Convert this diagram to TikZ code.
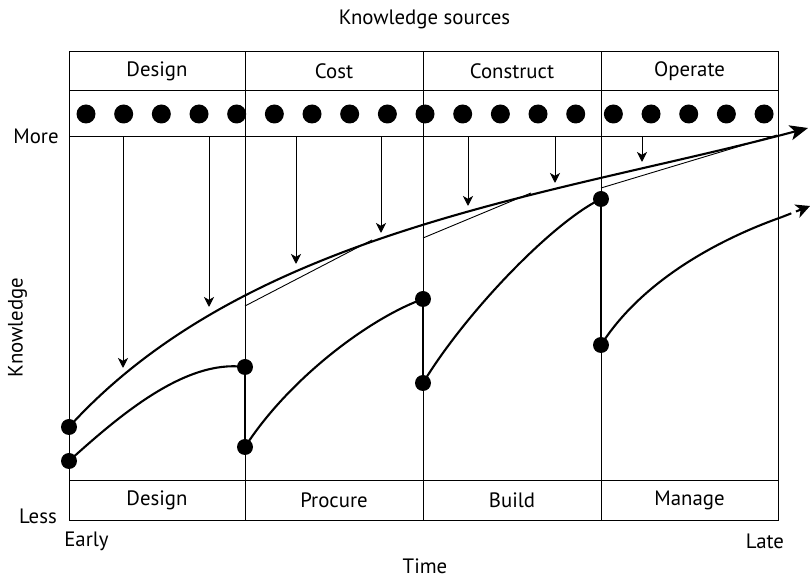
\documentclass[tikz,border=0pt]{standalone}
\usepackage{fontspec}
\setmainfont{PT Sans}
\usetikzlibrary{arrows.meta,positioning}

\begin{document}
\begin{tikzpicture}[
x=0.5pt,y=-0.5pt,
frame/.style={line width=0.45pt},
lbl/.style={inner sep=0pt,font=\fontsize{10.4}{12}\selectfont},
srcdot/.style={circle,fill,inner sep=0pt,minimum size=9.5pt},
kdot/.style={circle,fill,inner sep=0pt,minimum size=8pt},
arr/.style={-{Stealth[length=5pt,width=5pt,inset=1.4pt]},line width=0.45pt},
curve/.style={line width=1.05pt},
jump/.style={line width=1.35pt},
tangent/.style={line width=0.45pt}
]
\useasboundingbox (0,0) rectangle (811,577);

% frame and phase columns
\coordinate (nw) at (69,51.7);
\coordinate (se) at (778,520.7);
\draw[frame] (nw) rectangle (se);
\draw[frame] (69,90.7) -- (778,90.7);
\draw[frame] (69,136.7) -- (778,136.7);
\draw[frame] (69,480.7) -- (778,480.7);
\foreach \x in {245,423,601} \draw[frame] (\x,51.7) -- (\x,520.7);

\node[lbl] (title) at (424.5,19) {Knowledge sources};
\node[lbl] (hdesign) at (157,71.2) {Design};
\node[lbl] (hcost) at (334,71.2) {Cost};
\node[lbl] (hconstruct) at (512,71.2) {Construct};
\node[lbl] (hoperate) at (689.5,71.2) {Operate};
\node[lbl] (bdesign) at (157,500.7) {Design};
\node[lbl] (bprocure) at (334,500.7) {Procure};
\node[lbl] (bbuild) at (512,500.7) {Build};
\node[lbl] (bmanage) at (689.5,500.7) {Manage};

\node[lbl] (more) at (36,136.7) {More};
\node[lbl] (less) at (38,516.7) {Less};
\node[lbl] (early) at (86.5,541.7) {Early};
\node[lbl] (late) at (765,541.7) {Late};
\node[lbl] (time) at (425,566.7) {Time};
\node[lbl,rotate=90] (knowledge) at (17.5,327.5) {Knowledge};

% sources
\foreach \i in {0,...,18}
  \node[srcdot] (src\i) at ({86+37.67*\i},114) {};
\foreach \x/\y [count=\k] in {123/368,209/307,296/264,381/233,468/206,555/183,642/162} {
  \coordinate (ka\k) at (\x,136.7);
  \coordinate (kt\k) at (\x,\y);
  \draw[arr] (ka\k) -- (kt\k);
}

% knowledge curves
\coordinate (k0) at (69,427);
\coordinate (k1) at (808,128);
\coordinate (p1) at (69,461);
\coordinate (p2) at (245,367);
\coordinate (p3) at (245,447);
\coordinate (p4) at (423,299);
\coordinate (p5) at (423,383);
\coordinate (p6) at (601,199);
\coordinate (p7) at (601,345);
\coordinate (m1) at (782,217);
\coordinate (m2) at (810,206);

\draw[curve,-{Stealth[length=9pt,width=7.5pt,inset=2.2pt]}] (k0) .. controls (249,229) and (557,195) .. (k1);
\draw[tangent] (245,306) coordinate (c1) -- (372,240) coordinate (c2);
\draw[tangent] (423,238) coordinate (c3) -- (531,193) coordinate (c4);
\draw[tangent] (601,188) coordinate (c5) -- (777,135) coordinate (c6);

\draw[curve] (p1) .. controls (119,416) and (185,359) .. (p2);
\draw[jump] (p2) -- (p3);
\draw[curve] (p3) .. controls (288,380) and (368,319) .. (p4);
\draw[jump] (p4) -- (p5);
\draw[curve] (p5) .. controls (466,312) and (553,222) .. (p6);
\draw[jump] (p6) -- (p7);
\draw[curve] (p7) .. controls (645,276) and (728,236) .. (m1);
\draw[curve,dash pattern=on 5pt off 2.5pt,-{Stealth[length=7pt,width=7pt,inset=2pt]}] (m1) -- (m2);

\foreach \p in {k0,p1,p2,p3,p4,p5,p6,p7}
  \node[kdot] (dot\p) at (\p) {};
\end{tikzpicture}
\end{document}
